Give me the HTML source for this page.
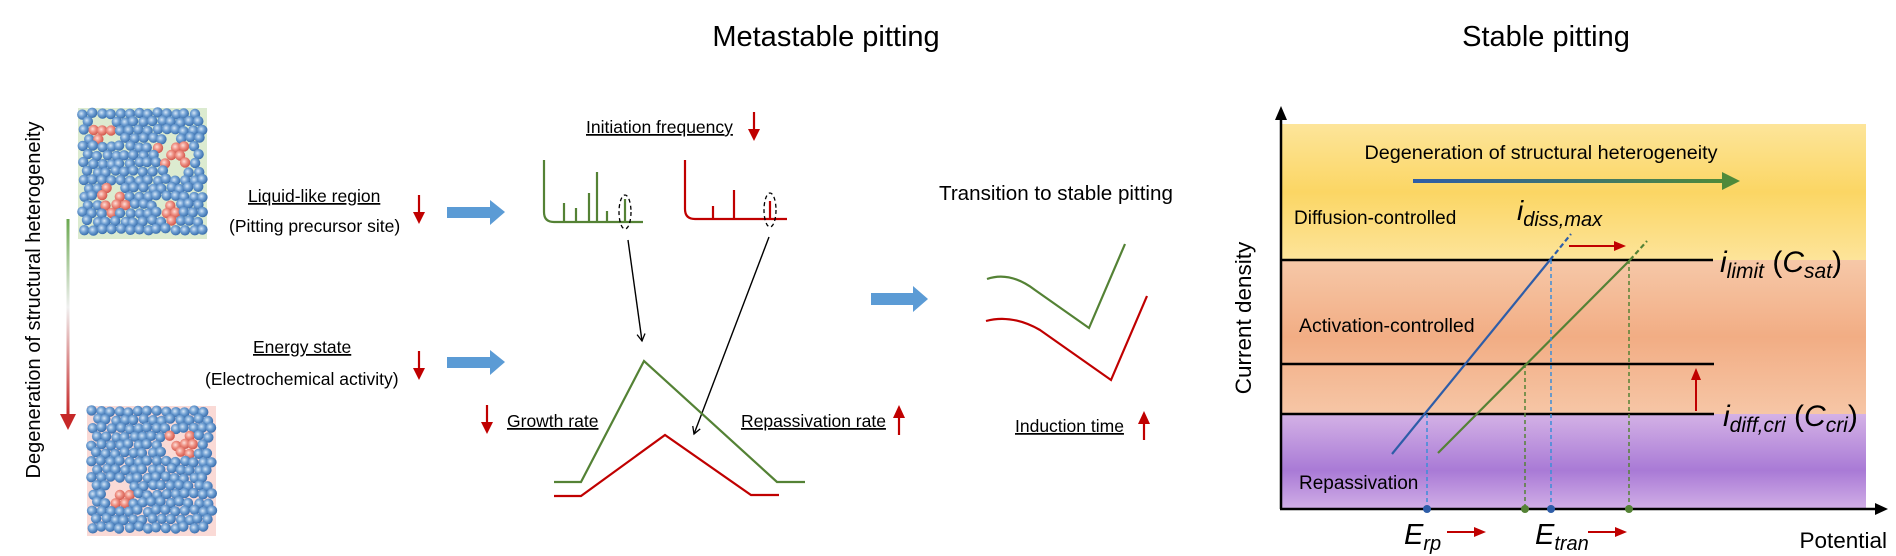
<!DOCTYPE html>
<html><head><meta charset="utf-8"><style>
html,body{margin:0;padding:0;background:#fff;}
svg{display:block;font-family:"Liberation Sans",Arial,sans-serif;}
</style></head><body>
<svg id="s" width="1896" height="556" viewBox="0 0 1896 556" xmlns="http://www.w3.org/2000/svg">
<defs>
<linearGradient id="vg" x1="0" y1="0" x2="0" y2="1"><stop offset="0" stop-color="#6aa84f"/><stop offset="0.45" stop-color="#f0f0f0"/><stop offset="1" stop-color="#c62828"/></linearGradient>
<linearGradient id="hg" x1="0" y1="0" x2="1" y2="0"><stop offset="0" stop-color="#2e5da8"/><stop offset="1" stop-color="#4f8a3a"/></linearGradient>
<linearGradient id="yel" x1="0" y1="0" x2="0" y2="1"><stop offset="0" stop-color="#fde59a"/><stop offset="0.5" stop-color="#fbd664"/><stop offset="1" stop-color="#fde49a"/></linearGradient>
<linearGradient id="pea" x1="0" y1="0" x2="0" y2="1"><stop offset="0" stop-color="#f6c8a8"/><stop offset="0.5" stop-color="#f2ad84"/><stop offset="1" stop-color="#f6c6a6"/></linearGradient>
<linearGradient id="pur" x1="0" y1="0" x2="0" y2="1"><stop offset="0" stop-color="#d4b2e6"/><stop offset="0.6" stop-color="#a97ad6"/><stop offset="1" stop-color="#d0ade6"/></linearGradient>
<radialGradient id="bb" cx="0.4" cy="0.4" r="0.6"><stop offset="0" stop-color="#d6e6f6"/><stop offset="0.5" stop-color="#6f9fd2"/><stop offset="1" stop-color="#3a6fae"/></radialGradient>
<radialGradient id="rb" cx="0.4" cy="0.4" r="0.6"><stop offset="0" stop-color="#fde0da"/><stop offset="0.5" stop-color="#ee8f82"/><stop offset="1" stop-color="#d2584d"/></radialGradient>
<marker id="ah" markerWidth="10" markerHeight="10" refX="8" refY="5" orient="auto" markerUnits="userSpaceOnUse"><path d="M1,1 L8,5 L1,9" fill="none" stroke="#000" stroke-width="1.3"/></marker>
</defs>

<text x="826" y="46" font-size="29" text-anchor="middle">Metastable pitting</text>
<text x="1546" y="46" font-size="29" text-anchor="middle">Stable pitting</text>

<text transform="translate(40,300) rotate(-90)" font-size="20" text-anchor="middle">Degeneration of structural heterogeneity</text>
<rect x="66.5" y="219" width="3" height="196" fill="url(#vg)"/>
<path d="M60,414 L76,414 L68,430 Z" fill="#c62828"/>

<rect x="78" y="108" width="129" height="131" fill="#dcebd0"/>
<rect x="87" y="406" width="129" height="130" fill="#fadad6"/>
<g id="p1"></g><g id="p2"></g>

<g font-size="17.5" text-decoration="underline">
<text x="248" y="202">Liquid-like region</text>
<text x="253" y="353">Energy state</text>
<text x="586" y="133">Initiation frequency</text>
<text x="507" y="427">Growth rate</text>
<text x="741" y="427">Repassivation rate</text>
<text x="1015" y="432">Induction time</text>
</g>
<g font-size="17.5">
<text x="229" y="232">(Pitting precursor site)</text>
<text x="205" y="385">(Electrochemical activity)</text>
<text x="939" y="200" font-size="20.6">Transition to stable pitting</text>
</g>

<g stroke="#c00000" stroke-width="2.2" fill="#c00000">
<line x1="419" y1="195" x2="419" y2="214"/><path d="M413,212 L425,212 L419,224Z" stroke="none"/>
<line x1="419" y1="351" x2="419" y2="370"/><path d="M413,368 L425,368 L419,380Z" stroke="none"/>
<line x1="754" y1="112" x2="754" y2="131"/><path d="M748,129 L760,129 L754,141Z" stroke="none"/>
<line x1="487" y1="405" x2="487" y2="424"/><path d="M481,422 L493,422 L487,434Z" stroke="none"/>
<line x1="899" y1="416" x2="899" y2="435"/><path d="M893,418 L905,418 L899,405Z" stroke="none"/>
<line x1="1144" y1="422" x2="1144" y2="440"/><path d="M1138,424 L1150,424 L1144,411Z" stroke="none"/>
</g>

<g fill="#5b9bd5">
<path d="M447,207 L490,207 L490,200 L505,212 L490,225 L490,218 L447,218Z"/>
<path d="M447,357 L490,357 L490,350 L505,362 L490,375 L490,368 L447,368Z"/>
<path d="M871,293 L913,293 L913,286 L928,299 L913,312 L913,305 L871,305Z"/>
</g>

<g fill="none" stroke-width="2.2">
<path d="M544,160 L544,212 Q544,222 554,222 L643,222" stroke="#548235"/>
<path d="M564,222V203 M576,222V208 M589,222V193 M597,222V172 M607,222V211 M625,222V199" stroke="#548235"/>
<path d="M685,160 L685,209 Q685,219 695,219 L787,219" stroke="#c00000"/>
<path d="M713,219V206 M734,219V190 M770,219V201" stroke="#c00000"/>
</g>
<ellipse cx="625" cy="212" rx="6" ry="17" fill="none" stroke="#000" stroke-width="1.3" stroke-dasharray="4,3"/>
<ellipse cx="770" cy="210" rx="6" ry="17" fill="none" stroke="#000" stroke-width="1.3" stroke-dasharray="4,3"/>
<line x1="628" y1="240" x2="642" y2="341" stroke="#000" stroke-width="1.4" marker-end="url(#ah)"/>
<line x1="769" y1="237" x2="694" y2="434" stroke="#000" stroke-width="1.4" marker-end="url(#ah)"/>

<polyline points="554,482 581,482 644,361 777,482 805,482" fill="none" stroke="#548235" stroke-width="2.2"/>
<polyline points="554,496 581,496 665,435 751,495 779,495" fill="none" stroke="#c00000" stroke-width="2.2"/>

<path d="M987,279 Q1010,271 1035,290 L1089,328 L1125,244" fill="none" stroke="#548235" stroke-width="2.2"/>
<path d="M986,321 Q1012,314 1040,330 L1111,380 L1147,296" fill="none" stroke="#c00000" stroke-width="2.2"/>

<rect x="1282" y="124" width="584" height="136" fill="url(#yel)"/>
<rect x="1282" y="260" width="584" height="154" fill="url(#pea)"/>
<rect x="1282" y="414" width="584" height="94" fill="url(#pur)"/>
<g stroke="#000" stroke-width="2.5">
<line x1="1281" y1="260" x2="1713" y2="260"/>
<line x1="1281" y1="364" x2="1714" y2="364"/>
<line x1="1281" y1="414" x2="1714" y2="414"/>
<line x1="1281" y1="116" x2="1281" y2="509"/>
<line x1="1280" y1="509" x2="1878" y2="509"/>
</g>
<path d="M1275,120 L1287,120 L1281,106Z"/>
<path d="M1875,503 L1875,515 L1888,509Z"/>

<rect x="1413" y="179" width="312" height="4" fill="url(#hg)"/>
<path d="M1722,172 L1740,181 L1722,190Z" fill="#4f8a3a"/>

<g stroke-width="2.2" fill="none">
<line x1="1392" y1="454" x2="1550" y2="260" stroke="#2e5da8"/>
<line x1="1550" y1="260" x2="1571" y2="234" stroke="#2e5da8" stroke-dasharray="5,3"/>
<line x1="1438" y1="453" x2="1630" y2="260" stroke="#548235"/>
<line x1="1630" y1="260" x2="1647" y2="241" stroke="#548235" stroke-dasharray="5,3"/>
</g>
<g stroke-width="1.5" stroke-dasharray="4,3">
<line x1="1427" y1="414" x2="1427" y2="509" stroke="#3b8ed8"/>
<line x1="1551" y1="260" x2="1551" y2="509" stroke="#3b8ed8"/>
<line x1="1525" y1="364" x2="1525" y2="509" stroke="#548235"/>
<line x1="1629" y1="260" x2="1629" y2="509" stroke="#548235"/>
</g>
<circle cx="1427" cy="509" r="4" fill="#2e5da8"/>
<circle cx="1551" cy="509" r="4" fill="#2e5da8"/>
<circle cx="1525" cy="509" r="4" fill="#548235"/>
<circle cx="1629" cy="509" r="4" fill="#548235"/>

<g stroke="#c00000" stroke-width="2" fill="#c00000">
<line x1="1569" y1="246" x2="1616" y2="246"/><path d="M1614,241 L1626,246 L1614,251Z" stroke="none"/>
<line x1="1447" y1="532" x2="1476" y2="532"/><path d="M1474,527 L1486,532 L1474,537Z" stroke="none"/>
<line x1="1588" y1="532" x2="1617" y2="532"/><path d="M1615,527 L1627,532 L1615,537Z" stroke="none"/>
<line x1="1696" y1="411" x2="1696" y2="378"/><path d="M1691,380 L1701,380 L1696,368Z" stroke="none"/>
</g>

<text x="1541" y="159" font-size="19.8" text-anchor="middle">Degeneration of structural heterogeneity</text>
<text x="1294" y="224" font-size="19">Diffusion-controlled</text>
<text x="1299" y="332" font-size="19.5">Activation-controlled</text>
<text x="1299" y="489" font-size="19">Repassivation</text>
<text transform="translate(1251,318) rotate(-90)" font-size="22.5" text-anchor="middle">Current density</text>
<text x="1887" y="548" font-size="22.5" text-anchor="end">Potential</text>
<g font-style="italic">
<text x="1517" y="220" font-size="28">i<tspan font-size="20" dy="6">diss,max</tspan></text>
<text x="1720" y="272" font-size="30">i<tspan font-size="21" dy="6">limit</tspan><tspan dy="-6" font-style="normal"> (</tspan>C<tspan font-size="21" dy="6">sat</tspan><tspan dy="-6" font-style="normal">)</tspan></text>
<text x="1723" y="426" font-size="30">i<tspan font-size="21" dy="6">diff,cri</tspan><tspan dy="-6" font-style="normal"> (</tspan>C<tspan font-size="21" dy="6">cri</tspan><tspan dy="-6" font-style="normal">)</tspan></text>
<text x="1404" y="544" font-size="29">E<tspan font-size="20" dy="6">rp</tspan></text>
<text x="1535" y="544" font-size="29">E<tspan font-size="20" dy="6">tran</tspan></text>
</g>
</svg>
<script>
(function(){
var NS="http://www.w3.org/2000/svg";
var seed=7;function r(){seed=(seed*16807)%2147483647;return seed/2147483647;}
function fill(g,x0,y0,w,h,cl){
  var d=9.2;
  for(var j=0;j<16;j++){for(var i=0;i<15;i++){
    var cx=x0+5.5+i*d+(j%2?d/2:0)+(r()-0.5)*2.5, cy=y0+5.5+j*d*0.9+(r()-0.5)*2.5;
    if(cx>x0+w-4||cy>y0+h-4)continue;
    var red=false;
    for(var k=0;k<cl.length;k++){var dx=cx-cl[k][0],dy=cy-cl[k][1];if(dx*dx+dy*dy<cl[k][2]*cl[k][2])red=true;}
    if(red&&r()<0.35)continue;
    var c=document.createElementNS(NS,"circle");
    c.setAttribute("cx",cx.toFixed(1));c.setAttribute("cy",cy.toFixed(1));c.setAttribute("r","5.2");
    c.setAttribute("fill",red?"url(#rb)":"url(#bb)");g.appendChild(c);
  }}
}
fill(document.getElementById("p1"),78,108,129,131,[[103,133,13],[173,155,18],[112,200,15],[167,212,10]]);
fill(document.getElementById("p2"),87,406,129,130,[[178,445,15],[122,495,14]]);
})();
</script>
</body></html>
